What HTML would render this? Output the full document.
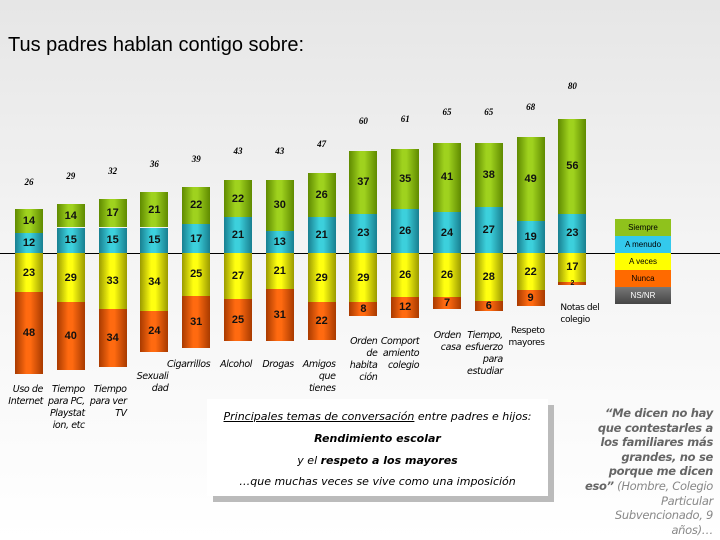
<!DOCTYPE html>
<html><head><meta charset="utf-8"><style>
body{margin:0;width:720px;height:540px;overflow:hidden;font-family:"Liberation Sans",sans-serif;}
#page{position:relative;width:720px;height:540px;background:linear-gradient(#e6e6e6,#f4f4f4 45%,#fff);}
.title{position:absolute;left:8px;top:34px;font-size:20px;color:#000;}
.seg{position:absolute;display:flex;align-items:center;justify-content:center;font:bold 11px "Liberation Sans",sans-serif;color:#111;overflow:visible;}
.tot{position:absolute;width:30px;text-align:center;font:bold italic 9px "Liberation Serif",serif;}
.cat{position:absolute;font:italic 9.5px "DejaVu Sans",sans-serif;text-align:right;line-height:12px;letter-spacing:-0.4px;}
.leg{position:absolute;left:615px;width:56px;height:17px;font-size:8px;text-align:center;line-height:17px;}
</style></head><body>
<div id="page">
<div class="title">Tus padres hablan contigo sobre:</div>
<div style="position:absolute;left:0;top:253px;width:720px;height:1px;background:#000"></div>
<div id="chart"></div>
<div class="leg" style="top:219px;background:#8fc21c">Siempre</div>
<div class="leg" style="top:236px;background:#33c9ec">A menudo</div>
<div class="leg" style="top:253px;background:#ffff00">A veces</div>
<div class="leg" style="top:270px;background:#ff6a00">Nunca</div>
<div class="leg" style="top:287px;background:linear-gradient(#777,#444);color:#fff">NS/NR</div>
<div style="position:absolute;left:213px;top:405px;width:341px;height:97px;background:#bbb"></div>
<div style="position:absolute;left:207px;top:399px;width:341px;height:97px;background:#fff;font:italic 11px 'DejaVu Sans',sans-serif;text-align:center;">
<div style="position:absolute;top:11px;left:0;width:341px"><u>Principales temas de conversación</u> entre padres e hijos:</div>
<div style="position:absolute;top:33px;left:0;width:341px;font-weight:bold">Rendimiento escolar</div>
<div style="position:absolute;top:55px;left:0;width:341px">y el <b>respeto a los mayores</b></div>
<div style="position:absolute;top:76px;left:0;width:341px">…que muchas veces se vive como una imposición</div>
</div>
<div style="position:absolute;left:583px;top:406px;width:130px;text-align:right;font:italic 11.5px 'DejaVu Sans',sans-serif;line-height:14.6px;color:#888;letter-spacing:-0.3px"><b style="color:#666">“Me dicen no hay que contestarles a los familiares más grandes, no se porque me dicen eso”</b> (Hombre, Colegio Particular Subvencionado, 9 años)…</div>
</div>
<script>
const categories=["Uso de Internet","Tiempo para PC, Playstat ion, etc","Tiempo para ver TV","Sexuali dad","Cigarrillos","Alcohol","Drogas","Amigos que tienes","Orden de habita ción","Comport amiento colegio","Orden casa","Tiempo, esfuerzo para estudiar","Respeto mayores","Notas del colegio"];
const totals=[26,29,32,36,39,43,43,47,60,61,65,65,68,80];
const siempre=[14,14,17,21,22,22,30,26,37,35,41,38,49,56];
const aMenudo=[12,15,15,15,17,21,13,21,23,26,24,27,19,23];
const aVeces=[23,29,33,34,25,27,21,29,29,26,26,28,22,17];
const nunca=[48,40,34,24,31,25,31,22,8,12,7,6,9,2];
const base=253,k=1.7,x0=15,step=41.8,bw=28;
const y=v=>v*k;
const cols={s:["#5f8a00","#9fd21e"],m:["#187f90","#3cd0dc"],v:["#9a9a00","#ffff10"],n:["#a83a00","#ff6a10"]};
const catTops=[384,384,384,371,359,359,359,359,336,336,330,330,325,302];
const catW=[46,44,40,36,60,40,40,36,36,44,40,48,44,40];
const ch=document.getElementById('chart');
function seg(x,top,h,c,val,name){
  const d=document.createElement('div');d.className='seg';
  
  
  d.style.left=x+'px';d.style.top=top+'px';d.style.width=bw+'px';d.style.height=h+'px';
  d.style.background=`linear-gradient(90deg,${c[0]},${c[1]} 40%,${c[1]} 55%,${c[0]})`;
  if(h<8){d.style.fontSize='7px';d.style.lineHeight=h+'px';}
  d.textContent=val;ch.appendChild(d);
}
categories.forEach((c,i)=>{
  const x=x0+i*step;
  let t=base-y(aMenudo[i]);seg(x,t,y(aMenudo[i]),cols.m,aMenudo[i],'bar-a-menudo');
  seg(x,t-y(siempre[i]),y(siempre[i]),cols.s,siempre[i],'bar-siempre');
  seg(x,base,y(aVeces[i]),cols.v,aVeces[i],'bar-a-veces');
  seg(x,base+y(aVeces[i]),y(nunca[i]),cols.n,nunca[i],'bar-nunca');
  const tl=document.createElement('div');tl.className='tot';
  
  
  tl.style.left=(x-1)+'px';tl.style.top=(base-25-1.78*totals[i]-5)+'px';tl.textContent=totals[i];ch.appendChild(tl);
  const cl=document.createElement('div');cl.className='cat';
  
  
  cl.style.width=catW[i]+'px';cl.style.left=(x+bw-catW[i])+'px';cl.style.top=catTops[i]+'px';
  if(i>=12){cl.style.fontStyle='normal';cl.style.fontSize='9px';cl.style.textAlign=i==13?'left':'right';}
  if(i==13){cl.style.left=(x+2)+'px';}
  cl.textContent=c;ch.appendChild(cl);
});
</script>
</body></html>
